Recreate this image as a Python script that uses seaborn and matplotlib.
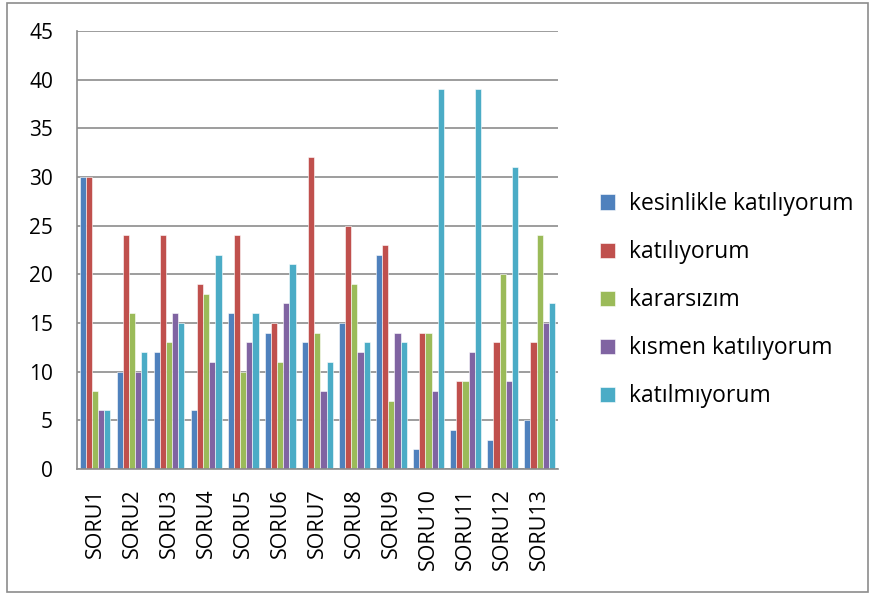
import pandas as pd
import matplotlib.pyplot as plt
import seaborn as sns
import numpy as np

# data
questions = ['SORU1', 'SORU2', 'SORU3', 'SORU4', 'SORU5', 'SORU6', 'SORU7',
             'SORU8', 'SORU9', 'SORU10', 'SORU11', 'SORU12', 'SORU13']
answers = ['kesinlikle katılıyorum', 'katılıyorum', 'kararsızım',
           'kısmen katılıyorum', 'katılmıyorum']
kesinlikle = [30, 10, 12, 6, 16, 14, 13, 15, 22, 2, 4, 3, 5]
katiliyorum = [30, 24, 24, 19, 24, 15, 32, 25, 23, 14, 9, 13, 13]
kararsizim = [8, 16, 13, 18, 10, 11, 14, 19, 7, 14, 9, 20, 24]
kismen = [6, 10, 16, 11, 13, 17, 8, 12, 14, 8, 12, 9, 15]
katilmiyorum = [6, 12, 15, 22, 16, 21, 11, 13, 13, 39, 39, 31, 17]
colors = ['#4F81BD', '#C0504D', '#9BBB59', '#8064A2', '#4BACC6']

series = [kesinlikle, katiliyorum, kararsizim, kismen, katilmiyorum]
df = pd.DataFrame({
    'soru': np.tile(questions, len(answers)),
    'cevap': np.repeat(answers, len(questions)),
    'sayi': np.concatenate(series),
})

sns.set_style('white')
plt.rcParams['font.family'] = ['Open Sans', 'DejaVu Sans']

fig = plt.figure(figsize=(8.72, 5.95), dpi=100)
ax = fig.add_axes([0.088, 0.212, 0.552, 0.736])

sns.barplot(data=df, x='soru', y='sayi', hue='cevap', order=questions,
            hue_order=answers, palette=colors, saturation=1, width=0.82,
            edgecolor='white', linewidth=0.4, ax=ax)

ax.set_ylim(0, 45)
ax.set_yticks(range(0, 46, 5))
ax.set_xlim(-0.5, len(questions) - 0.5)
ax.yaxis.grid(True, color='#8c8c8c', linewidth=1.2)
ax.set_axisbelow(True)
for s in ['top', 'right']:
    ax.spines[s].set_visible(False)
for s in ['left', 'bottom']:
    ax.spines[s].set_color('#8c8c8c')
    ax.spines[s].set_linewidth(1.2)

ax.tick_params(axis='y', length=6, width=1.2, color='#8c8c8c', labelsize=15,
               labelcolor='black', pad=11)
ax.set_xticks(np.arange(-0.5, len(questions)), minor=True)
ax.tick_params(axis='x', which='major', length=0, labelsize=15.5, rotation=90,
               labelcolor='black', pad=14)
ax.tick_params(axis='x', which='minor', length=6, width=1.2, color='#8c8c8c')
ax.set_xlabel('')
ax.set_ylabel('')

ax.legend(loc='center left', bbox_to_anchor=(1.045, 0.385), frameon=False,
          fontsize=16.5, labelspacing=1.05, handlelength=0.65, handleheight=0.65,
          handletextpad=0.6, labelcolor='black')

# outer chart frame
fig.patches.append(plt.Rectangle((0.008, 0.005), 0.987, 0.99, transform=fig.transFigure,
                                 fill=False, edgecolor='#8c8c8c', linewidth=1.2))

fig.savefig('out.png', dpi=100)
